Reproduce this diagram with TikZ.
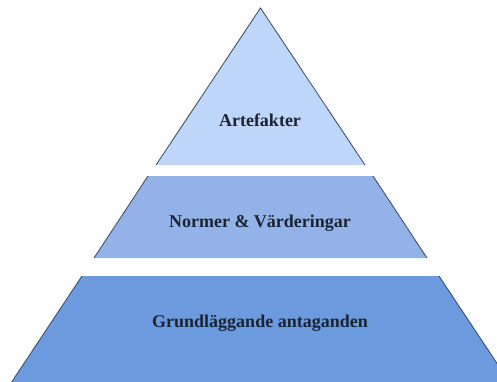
\documentclass[tikz,border=0pt]{standalone}
\usepackage{fontspec}
\setmainfont{Liberation Serif}
\definecolor{topc}{HTML}{BDD6FA}
\definecolor{midc}{HTML}{93B3E8}
\definecolor{botc}{HTML}{6C9ADE}
\definecolor{edgec}{HTML}{3A4656}
\definecolor{txtc}{HTML}{1C2433}
\begin{document}
\begin{tikzpicture}[x=1pt,y=-1pt,
  edge/.style={draw=edgec,line width=0.8pt},
  lbl/.style={font=\fontsize{18}{20}\selectfont\bfseries,text=txtc,anchor=base,inner sep=0pt}]
\useasboundingbox (0,0) rectangle (497,381);
\begin{scope}
\clip (0,0) rectangle (497,381);
% top triangle
\coordinate (apex) at (260.5,8);
\coordinate (t1) at (156,165);
\coordinate (t2) at (365,165);
\fill[topc] (apex) -- (t2) -- (t1) -- cycle;
\draw[edge] (t1) -- (apex) -- (t2);
% middle trapezoid
\coordinate (m1) at (148,176);
\coordinate (m2) at (373,176);
\coordinate (m3) at (427,258);
\coordinate (m4) at (94,258);
\fill[midc] (m1) -- (m2) -- (m3) -- (m4) -- cycle;
\draw[edge] (m1) -- (m4);
\draw[edge] (m2) -- (m3);
% bottom trapezoid
\coordinate (b1) at (82,276);
\coordinate (b2) at (439,276);
\coordinate (b3) at (512,386);
\coordinate (b4) at (9,386);
\fill[botc] (b1) -- (b2) -- (b3) -- (b4) -- cycle;
\draw[edge] (b1) -- (b4);
\draw[edge] (b2) -- (b3);
\end{scope}
\node[lbl] (art) at (260,126) {Artefakter};
\node[lbl] (nor) at (260,227) {Normer \& Värderingar};
\node[lbl] (gru) at (260,327) {Grundläggande antaganden};
\end{tikzpicture}
\end{document}
